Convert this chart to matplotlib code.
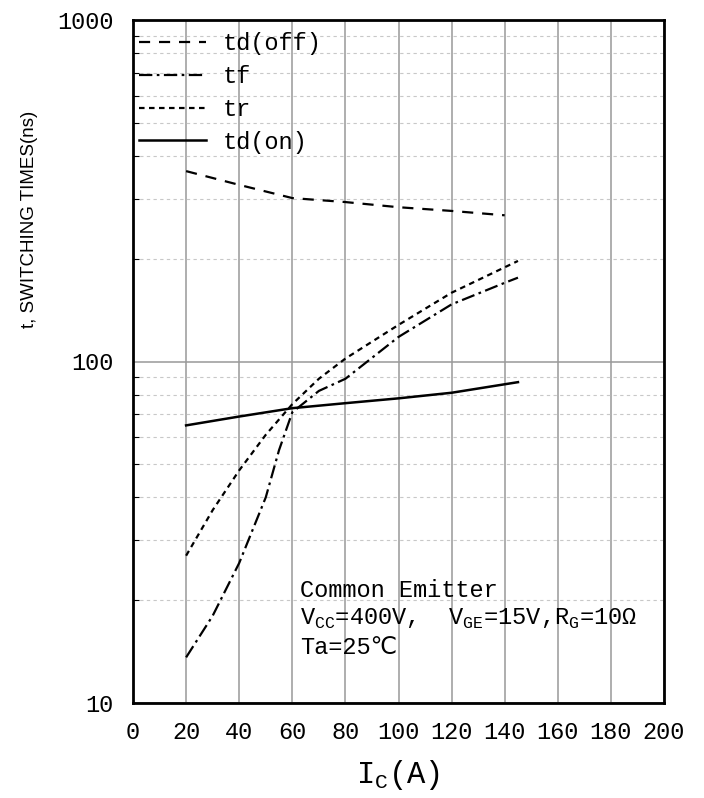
import numpy as np
import matplotlib
matplotlib.use('Agg')
import matplotlib.pyplot as plt
from matplotlib.ticker import LogLocator, NullFormatter, FixedLocator, FixedFormatter

mono = ['Liberation Mono', 'DejaVu Sans Mono', 'DejaVu Sans']
plt.rcParams['font.family'] = mono
plt.rcParams['mathtext.fontset'] = 'custom'
plt.rcParams['mathtext.rm'] = 'Liberation Mono'

ic_off = [20, 40, 60, 80, 100, 120, 140]
td_off = [361, 329, 301, 293, 283, 276, 268]

ic_f = [20, 30, 40, 50, 55, 60, 70, 80, 100, 120, 140, 145]
tf = [13.6, 18.0, 25.7, 40, 55, 71, 82, 89, 118, 147, 170, 176]

ic_r = [20, 30, 40, 50, 60, 70, 80, 100, 120, 145]
tr = [27, 36.7, 48, 61, 75, 89, 102, 128, 159, 197]

ic_on = [20, 40, 60, 80, 100, 120, 145]
td_on = [65, 69, 73, 75.5, 78, 81, 87]

fig = plt.figure(figsize=(7.04, 7.98), dpi=100)
ax = fig.add_axes([133/704, 1-703/798, 531/704, 683/798])

ax.plot(ic_off, td_off, color='k', lw=1.6, ls=(0, (5, 4)), label='td(off)')
ax.plot(ic_f, tf, color='k', lw=1.6, ls=(0, (6, 2, 1.2, 2)), label='tf')
ax.plot(ic_r, tr, color='k', lw=1.6, ls=(0, (2.5, 2)), label='tr')
ax.plot(ic_on, td_on, color='k', lw=1.8, ls='-', label='td(on)')

ax.set_yscale('log')
ax.set_xlim(0, 200)
ax.set_ylim(10, 1000)
ax.xaxis.set_major_locator(FixedLocator(np.arange(0, 201, 20)))
ax.yaxis.set_major_locator(FixedLocator([10, 100, 1000]))
ax.yaxis.set_major_formatter(FixedFormatter(['10', '100', '1000']))
ax.yaxis.set_minor_locator(LogLocator(base=10, subs=np.arange(2, 10)))
ax.yaxis.set_minor_formatter(NullFormatter())

ax.grid(True, which='major', axis='x', color='#999999', lw=1.1)
ax.grid(True, which='major', axis='y', color='#999999', lw=1.1)
ax.grid(True, which='minor', axis='y', color='#c8c8c8', lw=0.8, ls=(0, (3, 3)))
ax.set_axisbelow(True)

ax.tick_params(axis='both', which='major', length=0, labelsize=17)
ax.tick_params(axis='x', pad=13)
ax.tick_params(axis='y', pad=14)
ax.tick_params(axis='y', which='minor', direction='in', length=4, width=0.8)
for s in ax.spines.values():
    s.set_linewidth(2)
    s.set_color('k')

ax.set_xlabel(r'I$_{\rm C}$(A)', fontsize=22, labelpad=10)
fig.text(30/704, 1-219/798, 't, SWITCHING TIMES(ns)', rotation=90,
         ha='center', va='center', fontsize=13.5,
         family=['Liberation Sans Narrow', 'Liberation Sans', 'DejaVu Sans'])

leg = ax.legend(loc='upper left', bbox_to_anchor=(6/531, 1-12/683), frameon=False,
                fontsize=17, handlelength=2.85, handletextpad=0.7,
                labelspacing=0.42, borderpad=0, borderaxespad=0)

ax.text(62.9, 21.4, 'Common Emitter', fontsize=17, ha='left', va='center')
ax.text(62.9, 17.6, r'V$_{\rm CC}$=400V,  V$_{\rm GE}$=15V,R$_{\rm G}$=10Ω',
        fontsize=17, ha='left', va='center')
ax.text(62.9, 14.5, 'Ta=25℃', fontsize=17, ha='left', va='center')

fig.savefig('out.png', dpi=100)
